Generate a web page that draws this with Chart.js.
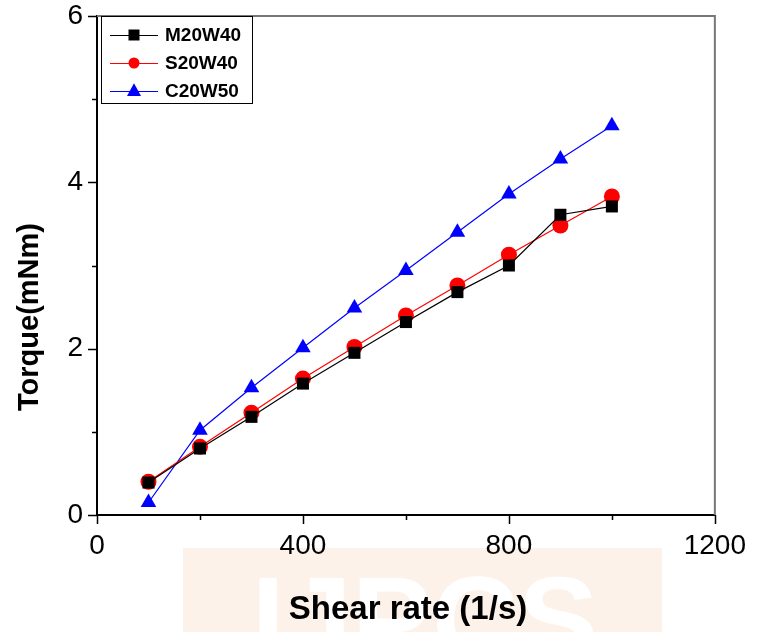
<!DOCTYPE html>
<html lang="en">
  <head>
    <meta charset="UTF-8" />
    <title>Torque vs shear rate</title>
    <style>
      body { margin: 0; background: #fff; }
      #wrap { width: 760px; height: 632px; }
    </style>
  </head>
  <body>
    <div id="wrap">
      <canvas id="torqueChart" width="760" height="632"></canvas>
    </div>

    <script src="https://cdn.jsdelivr.net/npm/chart.js"></script>
    <script>
      // shear rate steps (1/s)
      const shearRate = [100, 200, 300, 400, 500, 600, 700, 800, 900, 1000];
      // torque readings (mNm) for each mix
      const torqueM20W40 = [0.39, 0.80, 1.18, 1.58, 1.95, 2.32, 2.68, 3.00, 3.61, 3.71];
      const torqueS20W40 = [0.40, 0.82, 1.23, 1.64, 2.02, 2.40, 2.76, 3.13, 3.48, 3.83];
      const torqueC20W50 = [0.15, 1.02, 1.53, 2.01, 2.49, 2.94, 3.40, 3.86, 4.28, 4.68];
      const seriesNames = ["M20W40", "S20W40", "C20W50"];
      const xTicks = [0, 400, 800, 1200];
      const yTicks = [0, 2, 4, 6];

      const FONT = "Arial, 'Liberation Sans', sans-serif";
      Chart.defaults.font.family = FONT;
      Chart.defaults.color = "#000";

      function toPoints(ys) {
        return shearRate.map((x, i) => ({ x: x, y: ys[i] }));
      }

      // faint banner behind the x axis title
      const watermark = {
        id: "watermark",
        beforeDraw(chart) {
          const ctx = chart.ctx;
          ctx.save();
          ctx.fillStyle = "#fdf2ea";
          ctx.fillRect(183, 548, 479, 84);
          ctx.fillStyle = "#ffffff";
          ctx.font = "bold 120px " + FONT;
          ctx.textBaseline = "top";
          ctx.textAlign = "center";
          ctx.fillText("IJPCS", 425, 568);
          ctx.restore();
        },
      };

      // outer ticks (long on labelled values), grey top/right frame, axis titles
      const axesExtras = {
        id: "axesExtras",
        afterDraw(chart) {
          const ctx = chart.ctx;
          const area = chart.chartArea;
          const xs = chart.scales.x;
          const ys = chart.scales.y;
          ctx.save();

          ctx.strokeStyle = "#777";
          ctx.lineWidth = 2;
          ctx.beginPath();
          ctx.moveTo(area.left, area.top);
          ctx.lineTo(area.right, area.top);
          ctx.lineTo(area.right, area.bottom);
          ctx.stroke();

          ctx.strokeStyle = "#000";
          ctx.lineWidth = 1.5;
          ctx.beginPath();
          xs.ticks.forEach((t) => {
            const px = Math.round(xs.getPixelForValue(t.value)) + 0.5;
            const len = xTicks.includes(t.value) ? 9 : 5;
            ctx.moveTo(px, area.bottom);
            ctx.lineTo(px, area.bottom + len);
          });
          ys.ticks.forEach((t) => {
            const py = Math.round(ys.getPixelForValue(t.value)) + 0.5;
            const len = yTicks.includes(t.value) ? 9 : 5;
            ctx.moveTo(area.left, py);
            ctx.lineTo(area.left - len, py);
          });
          ctx.stroke();

          ctx.fillStyle = "#000";
          ctx.textAlign = "center";
          ctx.textBaseline = "middle";
          ctx.font = "bold 33px " + FONT;
          ctx.fillText("Shear rate (1/s)", 408, 610);

          ctx.translate(30, 317);
          ctx.rotate(-Math.PI / 2);
          ctx.font = "bold 29px " + FONT;
          ctx.fillText("Torque(mNm)", 0, 0);
          ctx.restore();
        },
      };

      function drawMarker(ctx, style, x, y, r) {
        ctx.beginPath();
        if (style === "rect") {
          ctx.rect(x - r, y - r, 2 * r, 2 * r);
        } else if (style === "triangle") {
          ctx.moveTo(x, y - r * 1.1);
          ctx.lineTo(x + r, y + r * 0.7);
          ctx.lineTo(x - r, y + r * 0.7);
          ctx.closePath();
        } else {
          ctx.arc(x, y, r, 0, Math.PI * 2);
        }
        ctx.fill();
      }

      // boxed legend in the top left corner of the plot
      const boxLegend = {
        id: "boxLegend",
        afterDraw(chart) {
          const ctx = chart.ctx;
          const left = 101, top = 16, w = 151, h = 87;
          ctx.save();
          ctx.fillStyle = "#fff";
          ctx.fillRect(left, top, w, h);
          ctx.strokeStyle = "#000";
          ctx.lineWidth = 1;
          ctx.strokeRect(left + 0.5, top + 0.5, w, h);
          chart.data.datasets.forEach((ds, i) => {
            const y = 35 + i * 28;
            ctx.strokeStyle = ds.borderColor;
            ctx.lineWidth = 1;
            ctx.beginPath();
            ctx.moveTo(110, y + 0.5);
            ctx.lineTo(158, y + 0.5);
            ctx.stroke();
            ctx.fillStyle = ds.pointBackgroundColor;
            drawMarker(ctx, ds.pointStyle, 134, y, ds.pointStyle === "triangle" ? 7 : 5.5);
            ctx.fillStyle = "#000";
            ctx.font = "bold 19px " + FONT;
            ctx.textBaseline = "middle";
            ctx.textAlign = "left";
            ctx.fillText(ds.label, 165, y + 1);
          });
          ctx.restore();
        },
      };

      function series(label, ys, color, style, radius) {
        return {
          label: label,
          data: toPoints(ys),
          borderColor: color,
          backgroundColor: color,
          pointBackgroundColor: color,
          pointBorderColor: color,
          pointBorderWidth: 0,
          pointStyle: style,
          pointRadius: radius,
          borderWidth: 1.2,
          showLine: true,
          tension: 0,
          clip: false,
        };
      }

      new Chart(document.getElementById("torqueChart").getContext("2d"), {
        type: "scatter",
        data: {
          datasets: [
            series(seriesNames[0], torqueM20W40, "#000000", "rect", 8.5),
            series(seriesNames[1], torqueS20W40, "#ff0000", "circle", 8),
            series(seriesNames[2], torqueC20W50, "#0000ff", "triangle", 9),
          ],
        },
        options: {
          responsive: false,
          animation: false,
          layout: { padding: { top: 0, right: 45, left: 0, bottom: 0 } },
          plugins: {
            legend: { display: false },
            tooltip: { enabled: false },
          },
          scales: {
            x: {
              type: "linear",
              min: 0,
              max: 1200,
              border: { display: true, color: "#000", width: 2 },
              grid: { display: false, drawTicks: false },
              ticks: {
                stepSize: 200,
                padding: 14,
                font: { size: 28 },
                color: "#000",
                maxRotation: 0,
                autoSkip: false,
                callback: (v) => (xTicks.includes(v) ? v : ""),
              },
              afterFit: (scale) => {
                scale.height = 117;
              },
            },
            y: {
              min: 0,
              max: 6,
              border: { display: true, color: "#000", width: 2 },
              grid: { display: false, drawTicks: false },
              ticks: {
                stepSize: 1,
                padding: 14,
                font: { size: 28 },
                color: "#000",
                autoSkip: false,
                callback: (v) => (yTicks.includes(v) ? v : ""),
              },
              afterFit: (scale) => {
                scale.width = 97;
                scale.paddingTop = 16;
                scale.paddingBottom = 0;
              },
            },
          },
        },
        plugins: [watermark, axesExtras, boxLegend],
      });
    </script>
  </body>
</html>
